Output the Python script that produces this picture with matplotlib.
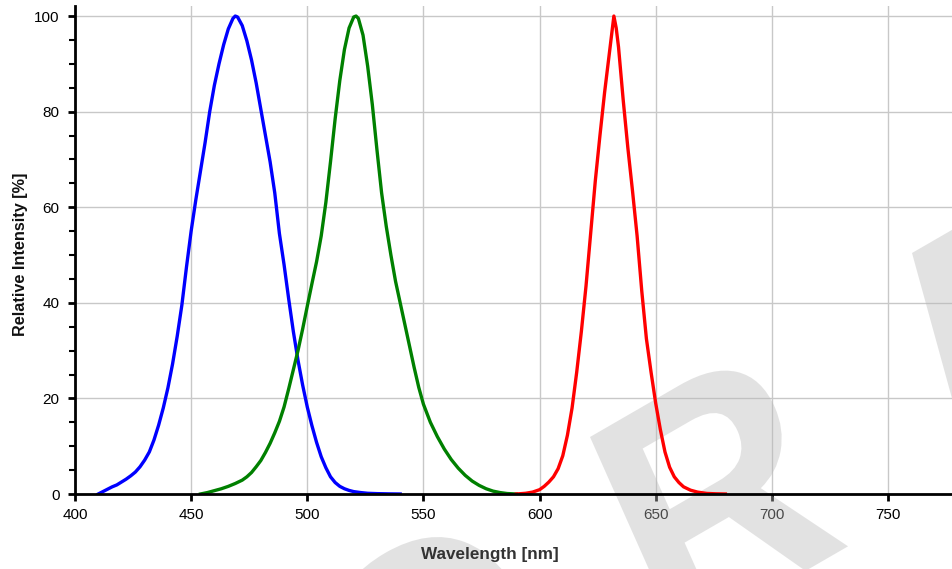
import matplotlib
matplotlib.use('Agg')
import numpy as np
import matplotlib.pyplot as plt
from matplotlib.ticker import MultipleLocator
from matplotlib.textpath import TextPath
from matplotlib.font_manager import FontProperties
from matplotlib.patches import PathPatch
from matplotlib.transforms import Affine2D

# ========================
# DATA
# ========================
blue_nm = [410, 412, 414, 416, 418, 420, 422, 424, 426, 428, 430, 432, 434, 436,
           438, 440, 442, 444, 446, 448, 450, 452, 454, 456, 458, 460, 462, 464,
           466, 468, 469, 470, 472, 474, 476, 478, 480, 482, 484, 486, 488, 490,
           492, 494, 496, 498, 500, 502, 504, 506, 508, 510, 512, 514, 516, 518,
           520, 523, 526, 530, 535, 540]
blue_rel = [0, 0.5, 1.0, 1.5, 1.9, 2.5, 3.1, 3.8, 4.6, 5.7, 7.1, 8.8, 11.3, 14.4,
            18.0, 22.2, 27.2, 33.0, 39.5, 47.5, 55.0, 61.5, 67.5, 73.5, 80.0, 85.5, 90.0, 94.0,
            97.3, 99.5, 100.0, 99.8, 98.0, 94.8, 90.8, 86.0, 80.5, 75.0, 69.5, 63.0, 54.5, 48.0,
            40.8, 34.0, 28.0, 22.8, 18.2, 14.3, 10.8, 7.8, 5.5, 3.6, 2.4, 1.6, 1.1, 0.75,
            0.5, 0.3, 0.15, 0.08, 0.03, 0]

green_nm = [454, 457, 460, 463, 466, 469, 472, 474, 476, 478, 480, 482, 484, 486,
            488, 490, 492, 494, 496, 498, 500, 502, 504, 506, 508, 510, 512, 514,
            516, 518, 520, 521, 522, 524, 526, 528, 530, 532, 534, 536, 538, 540,
            542, 544, 546, 548, 550, 553, 556, 559, 562, 565, 568, 571, 574, 577,
            580, 583, 586, 590]
green_rel = [0, 0.3, 0.7, 1.1, 1.6, 2.2, 2.9, 3.6, 4.5, 5.7, 7.0, 8.7, 10.6, 12.8,
             15.2, 18.2, 22.0, 26.0, 30.0, 34.5, 39.3, 44.0, 48.6, 54.0, 61.0, 69.5, 78.5, 86.5,
             93.0, 97.5, 99.8, 100.0, 99.5, 96.0, 89.5, 81.5, 72.0, 63.0, 56.0, 50.0, 44.5, 40.0,
             35.5, 31.0, 26.5, 22.3, 18.8, 15.0, 12.0, 9.4, 7.2, 5.4, 3.9, 2.7, 1.8, 1.1,
             0.6, 0.3, 0.1, 0]

red_nm = [590, 594, 597, 600, 602, 604, 606, 608, 610, 612, 614, 616, 618, 620,
          622, 624, 626, 628, 630, 631, 632, 633, 634, 636, 638, 640, 642, 644,
          646, 648, 650, 652, 654, 656, 658, 660, 662, 665, 668, 672, 676, 680]
red_rel = [0, 0.15, 0.4, 0.9, 1.6, 2.5, 3.6, 5.3, 8.0, 12.3, 18.0, 25.5, 34.0, 43.5,
           54.5, 65.5, 75.0, 84.0, 92.0, 96.0, 100.0, 97.5, 93.5, 82.5, 72.5, 63.5, 54.0, 42.5,
           32.5, 25.5, 19.0, 13.5, 8.8, 5.6, 3.6, 2.4, 1.5, 0.8, 0.4, 0.12, 0.04, 0]

x_ticks = [400, 450, 500, 550, 600, 650, 700, 750]
y_ticks = [0, 20, 40, 60, 80, 100]

# ========================
# STYLE
# ========================
plt.rcParams['font.family'] = ['Liberation Sans', 'DejaVu Sans']

W, H = 953, 569
fig = plt.figure(figsize=(W / 100, H / 100), dpi=100)
ax = fig.add_axes([75 / W, 75 / H, 878 / W, 488 / H])

LW = 2.4
ax.plot(blue_nm, blue_rel, color='#0000ff', lw=LW, solid_joinstyle='round', zorder=2)
ax.plot(green_nm, green_rel, color='#008000', lw=LW, solid_joinstyle='round', zorder=2)
ax.plot(red_nm, red_rel, color='#ff0000', lw=LW, solid_joinstyle='round', zorder=2)

ax.set_xlim(400, 778)
ax.set_ylim(0, 102.1)
ax.set_xticks(x_ticks)
ax.set_yticks(y_ticks)
ax.yaxis.set_minor_locator(MultipleLocator(5))

# grid
ax.grid(True, which='major', color='#c8c8c8', lw=1.0)

for side in ['top', 'right']:
    ax.spines[side].set_visible(False)
for side in ['left', 'bottom']:
    ax.spines[side].set_linewidth(2)

ax.tick_params(which='major', direction='out', length=5, width=2, labelsize=11)
ax.tick_params(axis='x', pad=5)
ax.tick_params(axis='y', pad=6)
ax.tick_params(axis='y', which='minor', direction='out', length=4, width=1.5)

ax.set_ylabel('Relative Intensity [%]', fontsize=11.7, fontweight='bold', color='#111111')
ax.yaxis.set_label_coords(-0.053, 0.492)
# x label as figure text so it stays above the watermark
fig.text(490 / W, 1 - 547 / H, 'Wavelength [nm]', ha='center', va='top',
         fontsize=12.3, fontweight='bold', color='#333333')

# ========================
# WATERMARK (big grey letters, rotated and squeezed)
# ========================
fp = FontProperties(family='Liberation Sans', weight='bold')
WM_SIZE = 335
base_tr = Affine2D().rotate_deg(26.9).scale(0.878, 1.0)


def watermark_letter(ch, target, mode, skew=0):
    tp = TextPath((0, 0), ch, size=WM_SIZE, prop=fp)
    tr0 = Affine2D().skew_deg(skew, 0) + base_tr
    if mode == 'topleft':
        v = tp.vertices
        top = v[v[:, 1] > v[:, 1].max() - 0.5]
        anchor = tr0.transform(top[top[:, 0].argmin()])
    else:
        bb = tp.transformed(tr0).get_extents()
        anchor = np.array([(bb.x0 + bb.x1) / 2, bb.y1])
    tr = tr0 + Affine2D().translate(target[0] - anchor[0], target[1] - anchor[1])
    wm = PathPatch(tp, transform=tr, facecolor='#b8b8b8', edgecolor='none',
                   alpha=0.4, zorder=1.8, clip_on=False)
    ax.add_artist(wm)


watermark_letter('O', (432, H - 537), 'top')
watermark_letter('R', (590, H - 437), 'topleft')
watermark_letter('E', (912, H - 253), 'topleft', skew=9.5)

fig.savefig('out.png', dpi=100)
